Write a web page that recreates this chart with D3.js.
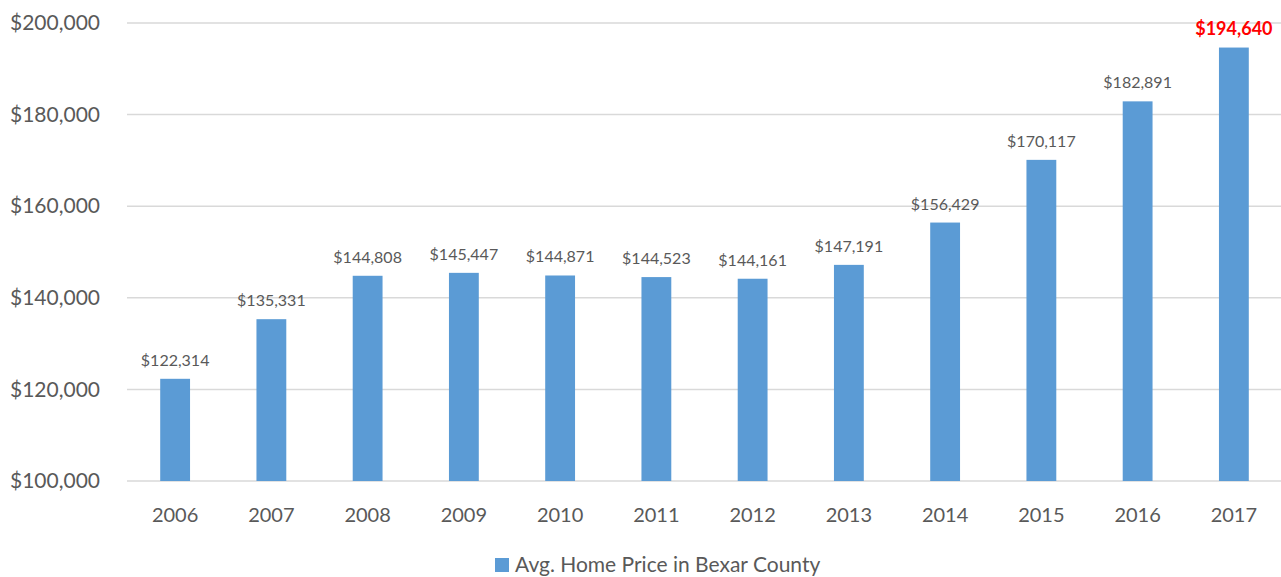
<!DOCTYPE html>
<html>
<head>
<meta charset="utf-8">
<script src="https://cdn.jsdelivr.net/npm/d3@7"></script>
<style>
  html, body { margin: 0; padding: 0; background: #fff; }
  svg { display: block; font-family: Lato, "Open Sans", sans-serif; }
</style>
</head>
<body>
<svg id="chart" width="1281" height="577"></svg>
<script>
// Average home price in Bexar County, 2006–2017
const years = ["2006","2007","2008","2009","2010","2011","2012","2013","2014","2015","2016","2017"];
const prices = [122314, 135331, 144808, 145447, 144871, 144523, 144161, 147191, 156429, 170117, 182891, 194640];
const yTicks = [100000, 120000, 140000, 160000, 180000, 200000];
const seriesName = "Avg. Home Price in Bexar County";
const highlightYear = "2017";

const svg = d3.select("#chart");
const margin = { left: 127, right: -1, top: 23, bottom: 96 };
const W = 1281, H = 577;

const x = d3.scaleBand()
  .domain(years)
  .range([margin.left, W - margin.right])
  .paddingInner(0.69)
  .paddingOuter(0.345);

const y = d3.scaleLinear()
  .domain([100000, 200000])
  .range([H - margin.bottom, margin.top]);

const money = d3.format("$,");

// Horizontal gridlines
svg.append("g")
  .selectAll("line")
  .data(yTicks)
  .join("line")
  .attr("x1", margin.left)
  .attr("x2", W)
  .attr("y1", d => y(d))
  .attr("y2", d => y(d))
  .attr("stroke", "#d9d9d9")
  .attr("stroke-width", 1.5);

// Y axis labels
const yAxis = d3.axisLeft(y).tickValues(yTicks).tickFormat(money).tickSize(0).tickPadding(0);
svg.append("g")
  .attr("transform", `translate(100,0)`)
  .call(yAxis)
  .call(g => g.select(".domain").remove())
  .call(g => g.selectAll("text")
    .attr("fill", "#595959")
    .attr("font-size", 21)
    .attr("font-family", "Lato, 'Open Sans', sans-serif"));

// X axis labels
const xAxis = d3.axisBottom(x).tickSize(0).tickPadding(0);
svg.append("g")
  .attr("transform", `translate(0,${H - margin.bottom})`)
  .call(xAxis)
  .call(g => g.select(".domain").remove())
  .call(g => g.selectAll("text")
    .attr("fill", "#595959")
    .attr("font-size", 20)
    .attr("dy", 0)
    .attr("y", 41)
    .attr("font-family", "Lato, 'Open Sans', sans-serif"));

// Bars
svg.append("g")
  .selectAll("rect")
  .data(years.map((yr, i) => ({ yr, v: prices[i] })))
  .join("rect")
  .attr("x", d => x(d.yr))
  .attr("width", x.bandwidth())
  .attr("y", d => y(d.v))
  .attr("height", d => y(100000) - y(d.v))
  .attr("fill", "#5b9bd5");

// Value labels
svg.append("g")
  .selectAll("text")
  .data(years.map((yr, i) => ({ yr, v: prices[i] })))
  .join("text")
  .attr("x", d => x(d.yr) + x.bandwidth() / 2)
  .attr("y", d => y(d.v) - 13)
  .attr("text-anchor", "middle")
  .attr("font-size", d => d.yr === highlightYear ? 18 : 16)
  .attr("font-weight", d => d.yr === highlightYear ? "bold" : "normal")
  .attr("fill", d => d.yr === highlightYear ? "#ff0000" : "#595959")
  .text(d => money(d.v));

// Legend
const legend = svg.append("g").attr("transform", "translate(495,558)");
legend.append("rect")
  .attr("width", 14).attr("height", 14)
  .attr("fill", "#5b9bd5");
legend.append("text")
  .attr("x", 20).attr("y", 14)
  .attr("font-size", 21)
  .attr("fill", "#595959")
  .text(seriesName);
</script>
</body>
</html>
